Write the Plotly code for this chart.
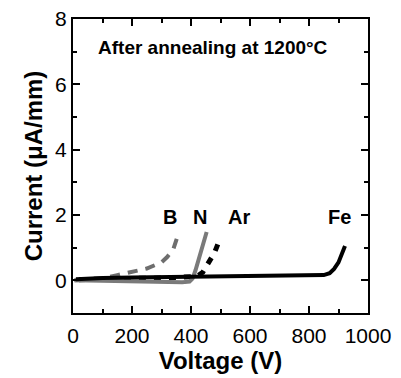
import plotly.graph_objects as go

fe_v = [10, 50, 100, 200, 300, 400, 500, 600, 700, 800, 850, 870, 885, 900, 912, 922]
fe_i = [0.03, 0.05, 0.07, 0.09, 0.1, 0.11, 0.12, 0.13, 0.13, 0.14, 0.16, 0.22, 0.35, 0.55, 0.8, 1.05]

n_v = [5, 50, 100, 200, 300, 370, 395, 405, 415, 425, 435, 445, 453]
n_i = [0.0, -0.01, -0.02, -0.04, -0.05, -0.06, -0.04, 0.05, 0.3, 0.6, 0.95, 1.25, 1.48]

b_v = [5, 50, 100, 150, 200, 250, 300, 320, 340, 352]
b_i = [0.0, 0.02, 0.06, 0.16, 0.27, 0.36, 0.55, 0.72, 0.95, 1.28]

ar_v = [20, 100, 200, 300, 380, 420, 440, 455, 470, 482, 495]
ar_i = [0.02, 0.05, 0.06, 0.07, 0.08, 0.12, 0.25, 0.45, 0.7, 0.9, 1.2]

labels = ["B", "N", "Ar", "Fe"]
label_v = [328, 429, 563, 902]
label_i = [1.93, 1.93, 1.93, 1.93]

font = "Liberation Sans"

fig = go.Figure()
fig.add_trace(go.Scatter(x=b_v, y=b_i, mode="lines",
                         line=dict(color="#6e6e6e", width=4, dash="10px,8px")))
fig.add_trace(go.Scatter(x=ar_v, y=ar_i, mode="lines",
                         line=dict(color="black", width=5, dash="7px,8px")))
fig.add_trace(go.Scatter(x=n_v, y=n_i, mode="lines",
                         line=dict(color="#7a7a7a", width=4)))
fig.add_trace(go.Scatter(x=fe_v, y=fe_i, mode="lines",
                         line=dict(color="black", width=4)))

for t, xv, yv in zip(labels, label_v, label_i):
    fig.add_annotation(x=xv, y=yv, text=t, showarrow=False,
                       font=dict(family=font, size=20, color="black", weight="bold"))

fig.add_annotation(x=473, y=7.14, text="After annealing at 1200°C", showarrow=False,
                   font=dict(family=font, size=19, color="black", weight="bold"))

axis_common = dict(showgrid=False, zeroline=False, showline=True, linecolor="black",
                   linewidth=2, mirror="ticks", ticks="inside", ticklen=7, tickwidth=1.5,
                   tickcolor="black", automargin=False,
                   tickfont=dict(family=font, size=21, color="black"))

fig.update_layout(
    width=401, height=378,
    margin=dict(l=73, r=33, t=19, b=65),
    paper_bgcolor="white", plot_bgcolor="white",
    showlegend=False,
    xaxis=dict(range=[0, 1000], tickvals=[0, 200, 400, 600, 800, 1000],
               ticklabelstandoff=3,
               minor=dict(tickvals=[100, 300, 500, 700, 900], ticks="inside", ticklen=4,
                          tickcolor="black", tickwidth=1.5),
               title=dict(text="Voltage (V)", standoff=6,
                          font=dict(family=font, size=24, color="black", weight="bold")),
               **axis_common),
    yaxis=dict(range=[-1, 8], tickvals=[0, 2, 4, 6, 8],
               minor=dict(tickvals=[-1, 1, 3, 5, 7], ticks="inside", ticklen=4,
                          tickcolor="black", tickwidth=1.5),
               title=dict(text="Current (μA/mm)", standoff=6,
                          font=dict(family=font, size=24, color="black", weight="bold")),
               **axis_common),
)

fig.write_html("out.html")
